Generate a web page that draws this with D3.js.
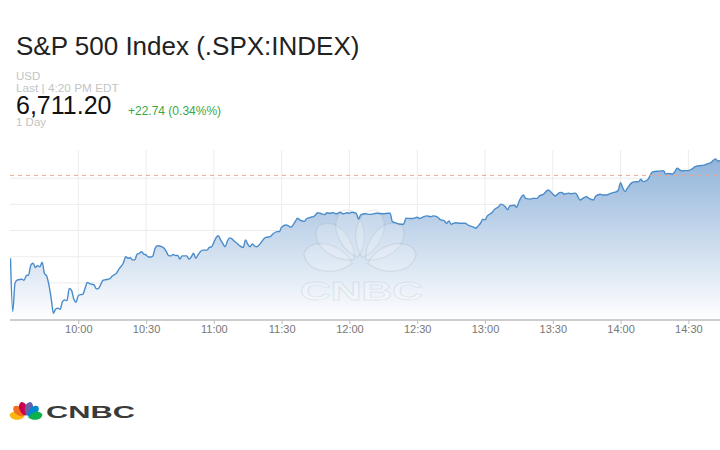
<!DOCTYPE html>
<html><head><meta charset="utf-8">
<script src="https://cdn.jsdelivr.net/npm/d3@7"></script>
<style>
html,body{margin:0;padding:0;background:#fff;}
svg{display:block;font-family:"Liberation Sans",Arial,Helvetica,sans-serif;}
</style></head><body>
<svg id="chart" width="720" height="450"></svg>
<script>
// ---------- data ----------
const title = "S&P 500 Index (.SPX:INDEX)";
const currency = "USD";
const lastLabel = "Last | 4:20 PM EDT";
const lastPrice = "6,711.20";
const change = "+22.74 (0.34%%)";
const rangeLabel = "1 Day";
const sessionStart = "9:30", sessionEnd = "14:44";
const xTicks = ["10:00","10:30","11:00","11:30","12:00","12:30","13:00","13:30","14:00","14:30"];
const yGrid = [6640, 6650, 6660, 6670, 6680, 6690];
const yDomain = [6635.8, 6700.8];
const previousClose = 6691.1;
const featherColors = ["#fcb711","#f37021","#cc004c","#6460aa","#0089d0","#0db14b"];
const featherAngles = [-78, -47, -16, 16, 47, 78];
const brand = "CNBC";
const series = [
["9:30",6659.4],["9:31",6639.0],["9:32",6649.9],["9:33",6651.1],["9:35",6651.4],["9:36",6651.0],["9:37",6652.8],["9:38",6653.0],["9:39",6656.8],["9:40",6657.5],["9:41",6655.9],["9:42",6656.6],["9:43",6656.1],["9:44",6657.9],["9:45",6653.7],["9:46",6652.6],["9:47",6649.2],["9:48",6644.1],["9:49",6638.4],["9:50",6640.0],["9:51",6640.3],["9:52",6639.9],["9:53",6642.8],["9:54",6643.5],["9:55",6643.2],["9:56",6647.9],["9:57",6647.2],["9:58",6643.8],["9:59",6642.6],
["10:00",6645.1],["10:01",6645.5],["10:02",6645.6],["10:03",6647.9],["10:04",6650.2],["10:05",6649.7],["10:07",6649.2],["10:08",6647.7],["10:09",6647.9],["10:10",6649.5],["10:11",6651.0],["10:12",6651.2],["10:14",6651.6],["10:15",6652.6],["10:17",6653.8],["10:18",6655.3],["10:20",6657.7],["10:21",6660.0],["10:22",6659.4],["10:23",6659.6],["10:24",6658.8],["10:25",6658.8],["10:26",6660.9],["10:27",6661.3],["10:28",6661.9],["10:29",6661.0],["10:30",6660.7],["10:31",6659.9],["10:32",6659.9],["10:33",6660.3],["10:34",6663.2],["10:35",6664.2],["10:36",6664.1],["10:38",6663.2],["10:39",6661.9],["10:40",6660.4],["10:41",6660.3],["10:42",6660.9],["10:43",6660.4],["10:44",6660.5],["10:45",6659.1],["10:46",6660.3],["10:47",6660.3],["10:48",6660.3],["10:49",6659.1],["10:50",6659.9],["10:51",6661.3],["10:52",6659.4],["10:53",6660.7],["10:54",6661.9],["10:55",6662.5],["10:57",6662.5],["10:58",6663.6],["10:59",6663.8],
["11:00",6665.5],["11:01",6667.3],["11:02",6668.0],["11:03",6666.4],["11:04",6665.0],["11:05",6663.8],["11:06",6666.0],["11:07",6667.2],["11:08",6666.8],["11:09",6666.0],["11:10",6665.3],["11:11",6664.5],["11:13",6663.5],["11:14",6666.4],["11:15",6664.8],["11:16",6663.8],["11:17",6664.9],["11:18",6664.1],["11:19",6663.8],["11:20",6664.5],["11:22",6666.7],["11:23",6667.4],["11:25",6667.7],["11:26",6668.6],["11:28",6669.6],["11:29",6669.6],["11:30",6671.3],["11:32",6672.1],["11:33",6671.8],["11:34",6671.3],["11:36",6673.4],["11:37",6674.7],["11:38",6674.1],["11:40",6673.5],["11:41",6674.5],["11:43",6675.1],["11:44",6675.3],["11:45",6676.0],["11:46",6676.8],["11:47",6676.6],["11:49",6676.1],["11:50",6676.8],["11:51",6676.6],["11:53",6676.8],["11:54",6676.4],["11:56",6677.0],["11:57",6676.4],["11:59",6676.8],
["12:00",6676.6],["12:01",6677.0],["12:03",6676.6],["12:04",6674.4],["12:05",6676.0],["12:07",6676.4],["12:09",6676.2],["12:12",6676.6],["12:15",6676.4],["12:17",6676.6],["12:18",6676.6],["12:19",6673.4],["12:21",6672.8],["12:22",6672.5],["12:24",6672.4],["12:25",6674.7],["12:27",6674.6],["12:28",6674.6],["12:30",6675.1],["12:31",6674.6],["12:33",6675.3],["12:34",6675.6],["12:36",6675.3],["12:37",6675.6],["12:39",6675.1],["12:40",6674.3],["12:42",6673.7],["12:43",6672.8],["12:44",6673.7],["12:45",6672.4],["12:47",6673.0],["12:49",6672.8],["12:51",6672.8],["12:53",6671.9],["12:54",6671.6],["12:55",6671.3],["12:56",6670.9],["12:57",6671.8],["12:58",6672.8],["12:59",6674.3],
["13:00",6674.1],["13:01",6675.6],["13:03",6676.8],["13:04",6677.9],["13:06",6679.1],["13:07",6680.1],["13:09",6679.1],["13:10",6677.9],["13:11",6679.5],["13:13",6679.7],["13:14",6678.9],["13:15",6681.0],["13:17",6683.6],["13:18",6682.3],["13:20",6682.0],["13:21",6682.3],["13:23",6682.3],["13:24",6683.2],["13:26",6684.0],["13:27",6684.9],["13:28",6685.5],["13:30",6684.0],["13:31",6683.2],["13:33",6684.5],["13:34",6684.6],["13:35",6683.9],["13:37",6684.3],["13:38",6684.1],["13:40",6684.3],["13:41",6683.2],["13:42",6681.7],["13:44",6682.7],["13:45",6682.9],["13:46",6682.3],["13:48",6681.7],["13:49",6683.2],["13:51",6683.9],["13:52",6683.6],["13:54",6683.6],["13:55",6684.0],["13:57",6684.6],["13:58",6684.8],["13:59",6685.5],
["14:00",6688.3],["14:01",6686.2],["14:02",6684.9],["14:03",6686.2],["14:05",6688.3],["14:06",6688.6],["14:08",6688.7],["14:09",6689.6],["14:10",6688.7],["14:12",6689.4],["14:13",6690.9],["14:14",6692.3],["14:16",6692.7],["14:17",6692.7],["14:19",6692.9],["14:20",6691.6],["14:21",6691.8],["14:23",6691.6],["14:24",6692.5],["14:25",6693.8],["14:27",6692.8],["14:28",6692.9],["14:30",6692.9],["14:32",6693.8],["14:33",6694.4],["14:34",6694.7],["14:35",6694.8],["14:37",6695.0],["14:38",6695.4],["14:39",6695.7],["14:40",6696.0],["14:42",6697.4],["14:43",6696.6],["14:44",6696.7]
];

// ---------- drawing ----------
const parse = d3.timeParse("%H:%M");
const svg = d3.select("#chart");
svg.append("rect").attr("width",720).attr("height",450).attr("fill","#fff");

const x = d3.scaleTime().domain([parse(sessionStart), parse(sessionEnd)]).range([10.5, 720]);
const y = d3.scaleLinear().domain(yDomain).range([320, 150]);
const data = series.map(d => ({t: parse(d[0]), v: d[1]}));

const defs = svg.append("defs");
const grad = defs.append("linearGradient").attr("id","fillGrad")
  .attr("gradientUnits","userSpaceOnUse").attr("x1",0).attr("x2",0)
  .attr("y1",y.range()[1]).attr("y2",y.range()[0]);
grad.append("stop").attr("offset","0%").attr("stop-color","#8cb0d8");
grad.append("stop").attr("offset","100%").attr("stop-color","#ffffff");
defs.append("clipPath").attr("id","plotClip").append("rect")
  .attr("x",10).attr("y",140).attr("width",710).attr("height",181);

// header
svg.append("text").attr("x",16).attr("y",55).attr("font-size",26).attr("fill","#222").text(title);
svg.append("text").attr("x",16).attr("y",80).attr("font-size",11.5).attr("fill","#c4c4c4").text(currency);
svg.append("text").attr("x",16).attr("y",92.2).attr("font-size",11.8).attr("fill","#c4c4c4").text(lastLabel);
svg.append("text").attr("x",16).attr("y",114).attr("font-size",25).attr("fill","#111").text(lastPrice);
svg.append("text").attr("x",128).attr("y",115).attr("font-size",12).attr("fill","#3aa842").text(change);
svg.append("text").attr("x",16).attr("y",126).attr("font-size",11.5).attr("fill","#c4c4c4").text(rangeLabel);

// gridlines
svg.append("g").selectAll("line").data(yGrid).join("line")
  .attr("x1",10).attr("x2",720).attr("y1",d=>y(d)).attr("y2",d=>y(d))
  .attr("stroke","#ececec").attr("stroke-width",1);
svg.append("g").selectAll("line").data(xTicks).join("line")
  .attr("x1",d=>x(parse(d))).attr("x2",d=>x(parse(d)))
  .attr("y1",y.range()[1]).attr("y2",y.range()[0])
  .attr("stroke","#ececec").attr("stroke-width",1);

const plot = svg.append("g").attr("clip-path","url(#plotClip)");
const area = d3.area().x(d=>x(d.t)).y0(y.range()[0]).y1(d=>y(d.v)).curve(d3.curveMonotoneX);
const line = d3.line().x(d=>x(d.t)).y(d=>y(d.v)).curve(d3.curveMonotoneX);
plot.append("path").datum(data).attr("d",area).attr("fill","url(#fillGrad)");

// peacock helper
const featherPath = "M0,-2.2 C-4.8,-6 -5.2,-14.6 0,-15.9 C5.2,-14.6 4.8,-6 0,-2.2 Z";
function peacock(g, cx, cy, s, colored) {
  g.selectAll("path.f").data(featherColors).join("path").attr("class","f")
    .attr("d",featherPath)
    .attr("transform",(d,i)=>`translate(${cx},${cy}) scale(${s}) rotate(${featherAngles[i]})`)
    .attr("fill",d=> colored ? d : "#ffffff")
    .attr("fill-opacity", colored ? 1 : 0.2)
    .attr("stroke", colored ? "none" : "#8a9aab")
    .attr("stroke-opacity", 0.18)
    .attr("stroke-width", colored ? 0 : 0.35);
}

// watermark
const wm = plot.append("g");
peacock(wm, 360, 265, 3.6, false);
wm.append("text").attr("x",300).attr("y",300).attr("font-size",25).attr("font-weight","bold")
  .attr("textLength",123).attr("lengthAdjust","spacingAndGlyphs")
  .attr("fill","#ffffff").attr("fill-opacity",0.22)
  .attr("stroke","#8a9aab").attr("stroke-opacity",0.18).attr("stroke-width",0.8)
  .text(brand);

// previous close
svg.append("line").attr("x1",10).attr("x2",720)
  .attr("y1",y(previousClose)).attr("y2",y(previousClose))
  .attr("stroke","#eba592").attr("stroke-width",1).attr("stroke-dasharray","4,4");

plot.append("path").datum(data).attr("d",line).attr("fill","none")
  .attr("stroke","#4a8cca").attr("stroke-width",1.4).attr("stroke-linejoin","round");

// axis
const axis = d3.axisBottom(x).tickValues(xTicks.map(parse)).tickFormat(d3.timeFormat("%H:%M"))
  .tickSize(4).tickSizeOuter(0).tickPadding(1);
const ax = svg.append("g").attr("transform",`translate(0,${y.range()[0]})`).call(axis);
ax.select(".domain").attr("stroke","#bdbdbd").attr("stroke-width",1.5).attr("d","M10,0H720");
ax.selectAll(".tick line").attr("stroke","#bdbdbd");
ax.selectAll(".tick text").attr("font-size",11).attr("fill","#777")
  .attr("font-family","'Liberation Sans',Arial,sans-serif");

// bottom logo
const logo = svg.append("g");
peacock(logo, 26, 418, 1.05, true);
logo.append("text").attr("x",46).attr("y",418).attr("font-size",16.5).attr("font-weight","bold")
  .attr("textLength",89).attr("lengthAdjust","spacingAndGlyphs").attr("fill","#3a3a3a").text(brand);
</script>
</body></html>
